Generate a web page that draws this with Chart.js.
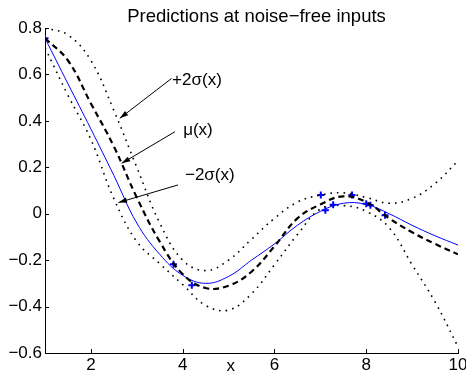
<!DOCTYPE html>
<html>
<head>
<meta charset="utf-8">
<script src="https://cdn.jsdelivr.net/npm/chart.js@4/dist/chart.umd.min.js"></script>
<style>
  html, body { margin: 0; padding: 0; background: #fff; }
  #wrap { width: 466px; height: 376px; }
</style>
</head>
<body>
<div id="wrap"><canvas id="chart"></canvas></div>
<script>
// values
const xs = [1, 1.5, 2, 2.5, 3, 3.5, 4, 4.5, 5, 5.5, 6, 6.5, 7, 7.5, 8, 8.5, 9, 9.5, 10];
const trueF = [0.756, 0.56, 0.365, 0.165, -0.04, -0.175, -0.265, -0.30, -0.27, -0.20, -0.13, -0.05, 0.01, 0.045, 0.04, 0.0, -0.05, -0.095, -0.135];
const mean  = [0.756, 0.66, 0.475, 0.29, 0.07, -0.12, -0.26, -0.32, -0.31, -0.25, -0.14, -0.02, 0.04, 0.075, 0.05, -0.02, -0.08, -0.13, -0.175];
const upper = [0.80, 0.77, 0.66, 0.445, 0.20, -0.04, -0.20, -0.245, -0.20, -0.11, -0.02, 0.05, 0.08, 0.09, 0.07, 0.045, 0.066, 0.13, 0.228];
const lower = [0.715, 0.51, 0.32, 0.065, -0.12, -0.215, -0.305, -0.395, -0.415, -0.345, -0.22, -0.09, 0.02, 0.035, 0.01, -0.06, -0.22, -0.38, -0.573];

const obsX = [1.0, 3.8, 4.2, 7.01, 7.11, 7.28, 7.69, 8.0, 8.09, 8.41];
const obsY = [0.756, -0.218, -0.308, 0.081, 0.015, 0.039, 0.081, 0.043, 0.036, -0.007];

const xTicks = [2, 4, 6, 8, 10];
const yTicks = [-0.6, -0.4, -0.2, 0, 0.2, 0.4, 0.6, 0.8];

// annotation labels and arrows: [label, textX, textY, fromX, fromY, toX, toY]
const notes = [
  ['+2σ(x)', 3.77, 0.576, 3.76, 0.583, 2.63, 0.411],
  ['μ(x)',   4.01, 0.36,  3.83, 0.353, 2.67, 0.217],
  ['−2σ(x)', 4.05, 0.167, 3.90, 0.124, 2.60, 0.048],
];

const FONT = 'Liberation Sans, Arial, Helvetica, sans-serif';
const pts = ys => xs.map((x, i) => ({ x, y: ys[i] }));

const matlabAxes = {
  id: 'matlabAxes',
  afterDraw(chart) {
    const { ctx, chartArea: a, scales: { x, y } } = chart;
    ctx.save();
    ctx.setLineDash([]);
    ctx.strokeStyle = '#000';
    ctx.lineWidth = 1;
    // inward ticks
    ctx.beginPath();
    xTicks.forEach(v => {
      const px = Math.round(x.getPixelForValue(v)) + 0.5;
      ctx.moveTo(px, a.bottom);
      ctx.lineTo(px, a.bottom - 4);
    });
    yTicks.forEach(v => {
      const py = Math.round(y.getPixelForValue(v)) + 0.5;
      ctx.moveTo(a.left, py);
      ctx.lineTo(a.left + 4, py);
    });
    ctx.stroke();

    // title and x label
    ctx.fillStyle = '#000';
    ctx.textAlign = 'center';
    ctx.textBaseline = 'middle';
    ctx.font = '18.5px ' + FONT;
    ctx.fillText('Predictions at noise\u2212free inputs', (a.left + a.right) / 2 + 5, 17);
    ctx.font = '17px ' + FONT;
    ctx.fillText('x', x.getPixelForValue(5.05), a.bottom + 13);

    // annotations
    ctx.textAlign = 'left';
    notes.forEach(([label, tx, ty, fx, fy, ax, ay]) => {
      ctx.fillText(label, x.getPixelForValue(tx), y.getPixelForValue(ty));
      const x0 = x.getPixelForValue(fx), y0 = y.getPixelForValue(fy);
      const x1 = x.getPixelForValue(ax), y1 = y.getPixelForValue(ay);
      ctx.beginPath();
      ctx.moveTo(x0, y0);
      ctx.lineTo(x1, y1);
      ctx.stroke();
      const ang = Math.atan2(y1 - y0, x1 - x0);
      const len = 9, half = 0.3;
      ctx.beginPath();
      ctx.moveTo(x1, y1);
      ctx.lineTo(x1 - len * Math.cos(ang - half), y1 - len * Math.sin(ang - half));
      ctx.lineTo(x1 - len * Math.cos(ang + half), y1 - len * Math.sin(ang + half));
      ctx.closePath();
      ctx.fill();
    });
    ctx.restore();
  }
};

new Chart(document.getElementById('chart'), {
  type: 'line',
  data: {
    datasets: [
      {
        label: '+2sigma',
        data: pts(upper),
        borderColor: '#000',
        borderWidth: 1.6,
        borderDash: [1.6, 5],
        pointRadius: 0,
        tension: 0.4,
      },
      {
        label: '-2sigma',
        data: pts(lower),
        borderColor: '#000',
        borderWidth: 1.6,
        borderDash: [1.6, 5],
        pointRadius: 0,
        tension: 0.4,
      },
      {
        label: 'mean',
        data: pts(mean),
        borderColor: '#000',
        borderWidth: 2.2,
        borderDash: [6, 4],
        pointRadius: 0,
        tension: 0.4,
      },
      {
        label: 'true',
        data: pts(trueF),
        borderColor: '#0000ff',
        borderWidth: 1,
        pointRadius: 0,
        tension: 0.4,
      },
      {
        label: 'obs',
        data: obsX.map((x, i) => ({ x, y: obsY[i] })),
        showLine: false,
        pointStyle: 'cross',
        pointRadius: 3.5,
        pointBorderWidth: 2,
        pointBorderColor: '#0000ff',
        pointBackgroundColor: '#0000ff',
      },
    ],
  },
  options: {
    responsive: true,
    maintainAspectRatio: false,
    animation: false,
    layout: { padding: { top: 28, right: 8, left: 0, bottom: 0 } },
    plugins: {
      legend: { display: false },
      tooltip: { enabled: false },
    },
    scales: {
      x: {
        type: 'linear',
        min: 1,
        max: 10,
        border: { display: true, color: '#000', width: 1 },
        grid: { display: false, drawTicks: false, tickLength: 0 },
        afterBuildTicks: s => { s.ticks = xTicks.map(v => ({ value: v })); },
        afterFit: s => { s.height = 23; s.paddingLeft = 0; s.paddingRight = 0; },
        ticks: {
          color: '#000',
          font: { family: FONT, size: 17 },
          padding: 2,
          maxRotation: 0,
          autoSkip: false,
        },
      },
      y: {
        min: -0.6,
        max: 0.8,
        border: { display: true, color: '#000', width: 1 },
        grid: { display: false, drawTicks: false, tickLength: 0 },
        afterBuildTicks: s => { s.ticks = yTicks.map(v => ({ value: v })); },
        afterFit: s => { s.width = 45; s.paddingTop = 0; s.paddingBottom = 0; },
        ticks: {
          color: '#000',
          font: { family: FONT, size: 17 },
          padding: 3,
          callback: v => (v < 0 ? '\u2212' : '') + Math.abs(v).toFixed(1).replace(/^0\.0$/, '0'),
        },
      },
    },
  },
  plugins: [matlabAxes],
});
</script>
</body>
</html>
